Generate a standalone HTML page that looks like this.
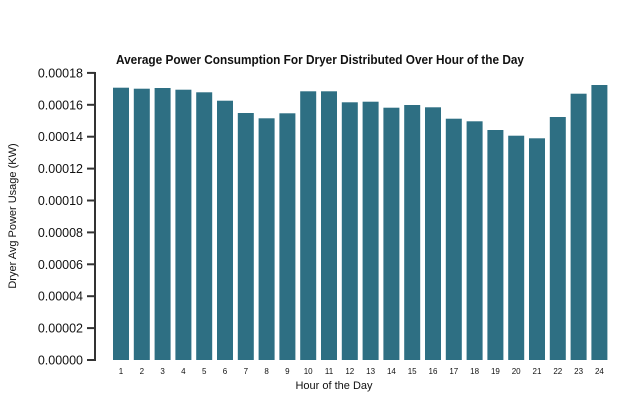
<!DOCTYPE html>
<html><head><meta charset="utf-8"><style>
html,body{margin:0;padding:0;background:#fff;}
svg text{font-family:"Liberation Sans",sans-serif;fill:#111;}
</style></head><body>
<svg width="640" height="400" viewBox="0 0 640 400" xmlns="http://www.w3.org/2000/svg">
<text x="320" y="64" text-anchor="middle" font-size="12.5" font-weight="bold" textLength="408" lengthAdjust="spacingAndGlyphs">Average Power Consumption For Dryer Distributed Over Hour of the Day</text>
<g id="bars" fill="#2e6f83"></g>
<line x1="95" y1="72" x2="95" y2="361" stroke="#333" stroke-width="2"/>
<g id="ticks"></g>
<text x="334" y="389" text-anchor="middle" font-size="11">Hour of the Day</text>
<text transform="translate(16,216) rotate(-90)" text-anchor="middle" font-size="11">Dryer Avg Power Usage (KW)</text>
<script>
var tops=[87.7,88.7,88,89.7,92.3,100.7,113,118.3,113.3,91.3,91.3,102.3,101.7,107.7,105,107.3,118.7,121.3,130,135.7,138.3,117,93.7,85];
var ns="http://www.w3.org/2000/svg",b=document.getElementById("bars"),t=document.getElementById("ticks");
tops.forEach(function(y,i){var r=document.createElementNS(ns,"rect");var x=113+i*20.8;
r.setAttribute("x",x);r.setAttribute("y",y);r.setAttribute("width",16);r.setAttribute("height",360-y);b.appendChild(r);
var tx=document.createElementNS(ns,"text");tx.setAttribute("x",x+8);tx.setAttribute("y",374);tx.setAttribute("text-anchor","middle");tx.setAttribute("font-size","8");tx.textContent=i+1;t.appendChild(tx);});
for(var k=0;k<=9;k++){var y=360-k*31.9;var l=document.createElementNS(ns,"line");l.setAttribute("x1",87);l.setAttribute("x2",95);l.setAttribute("y1",y);l.setAttribute("y2",y);l.setAttribute("stroke","#333");l.setAttribute("stroke-width","2");t.appendChild(l);
var tx=document.createElementNS(ns,"text");tx.setAttribute("x",83);tx.setAttribute("y",y+4.5);tx.setAttribute("text-anchor","end");tx.setAttribute("font-size","12.5");tx.textContent=(k*0.00002).toFixed(5);t.appendChild(tx);}
</script>
</svg>
</body></html>
